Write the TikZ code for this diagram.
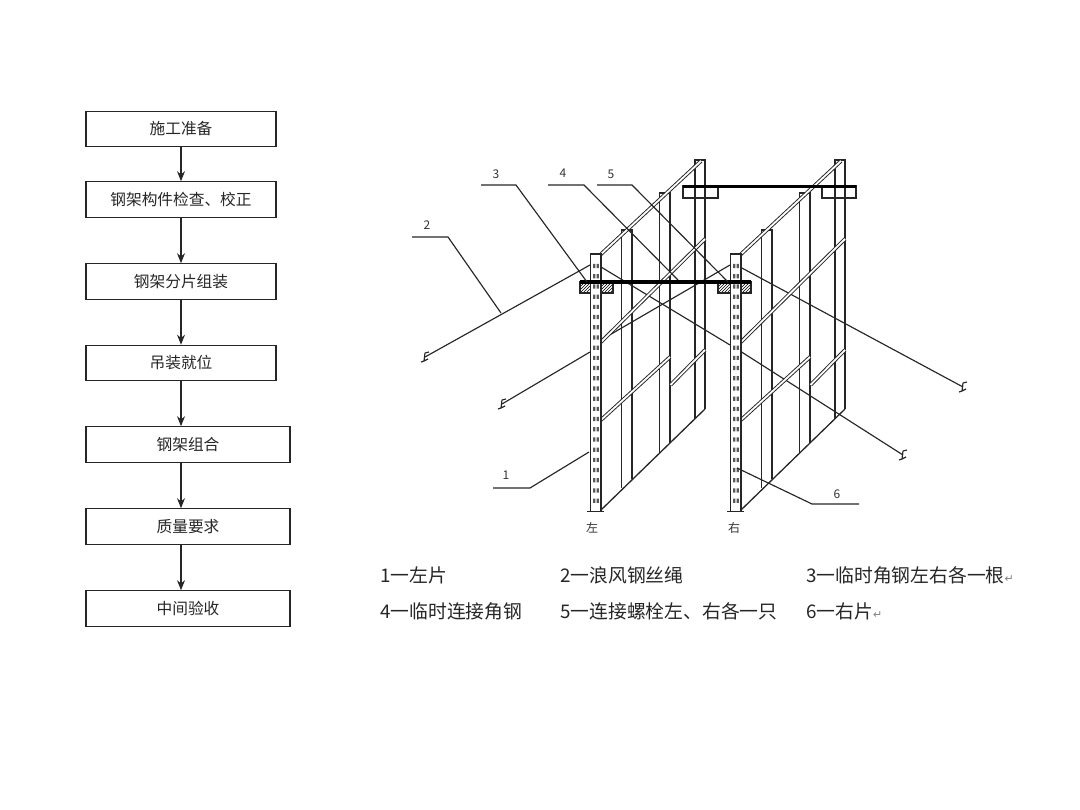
\documentclass[tikz,border=0pt]{standalone}
\usepackage{fontspec}
\setmainfont{Noto Sans CJK SC}
\newfontfamily\symfont{DejaVu Sans}
\usetikzlibrary{patterns,arrows.meta}
\tikzset{
  stepbox/.style={draw=black!85,line width=1.1pt,minimum height=35.5pt,inner sep=0pt,font=\fontsize{15.7}{18}\selectfont,text=black!85},
  flow/.style={-{Stealth[length=10pt,width=8pt]},line width=1.1pt,black!85},
  frameline/.style={black!85,line width=1.3pt},
  rail/.style={black!85,double=white,double distance=1.8pt,line width=.95pt},
  rope/.style={black!85,line width=1.15pt},
  tiebar/.style={black,line width=3.4pt},
  plate/.style={draw=black!85,line width=1.2pt},
  numlabel/.style={font=\fontsize{12}{13}\selectfont,text=black!80,inner sep=0pt},
  legend/.style={anchor=west,font=\fontsize{18.8}{20}\selectfont,text=black!85,inner sep=0pt},
}
\newcommand{\retmark}{{\symfont\fontsize{11}{12}\selectfont\color{black!50}↵}}
\begin{document}
\begin{tikzpicture}[x=1pt,y=-1pt]
  \useasboundingbox (0,0) rectangle (1080,810);
  % flow chart
  \node[stepbox,minimum width=190pt] (prep) at (181,129) {施工准备};
  \node[stepbox,minimum width=190pt] (check) at (181,199.5) {钢架构件检查、校正};
  \node[stepbox,minimum width=190pt] (assem) at (181,281.5) {钢架分片组装};
  \node[stepbox,minimum width=190pt] (lift) at (181,363) {吊装就位};
  \node[stepbox,minimum width=204pt] (combi) at (188,444.5) {钢架组合};
  \node[stepbox,minimum width=204pt] (quality) at (188,526.5) {质量要求};
  \node[stepbox,minimum width=204pt] (accept) at (188,608.5) {中间验收};
  \draw[flow] (prep.south) -- (check.north);
  \draw[flow] (check.south) -- (assem.north);
  \draw[flow] (assem.south) -- (lift.north);
  \draw[flow] (lift.south) -- (lift.south |- combi.north);
  \draw[flow] (lift.south |- combi.south) -- (lift.south |- quality.north);
  \draw[flow] (lift.south |- quality.south) -- (lift.south |- accept.north);
  % guy ropes
  \coordinate (endA) at (425,357);
  \coordinate (endB) at (502,404);
  \coordinate (endC) at (903,455);
  \coordinate (endD) at (963,387);
  \draw[rope] (endA) -- (590,265);
  \draw[rope] (endB) -- (590,352);
  \draw[rope] (601,340) -- (730,265);
  \draw[rope] (601,267) -- (730,345);
  \draw[rope] (740,351) -- (endC);
  \draw[rope] (740,267) -- (endD);
  \foreach \e in {endA,endB,endC,endD}
    \draw[rope,shift={(\e)}] (0,-4) -- (4,-5) (0,-4) -- (-1,4) -- (-4,5) (-1,4) -- (3,2);
  % the two panels
  \foreach \dx in {0,140} {
    \begin{scope}[xshift=\dx pt]
      \draw[frameline] (621.5,488) -- (621.5,230) -- (632,230) -- (632,479);
      \draw[frameline] (659.5,454) -- (659.5,193) -- (670,193) -- (670,443);
      \draw[frameline] (695,419) -- (695,160) -- (705,160) -- (705,409);
      \draw[frameline] (601,510) -- (705,409);
      \draw[rail] (599,256) -- (701,161);
      \draw[rail] (601,342) -- (705,239);
      \draw[rail] (601,420) -- (670,357);
      \draw[rail] (670.5,385) -- (705,350);
    \end{scope}
  }
  % back tie bar
  \draw[plate] (683,186) rectangle (718,198);
  \draw[plate] (822,186) rectangle (856,198);
  \draw[tiebar] (683,186.5) -- (856,186.5);
  % front tie bar with posts
  \draw[plate,pattern=north east lines] (580,282) rectangle (613,293);
  \draw[plate,pattern=north east lines] (718,282) rectangle (751,293);
  \foreach \dx in {0,140} {
    \begin{scope}[xshift=\dx pt]
      \draw[frameline,fill=white] (590.5,511) -- (590.5,254) -- (601,254) -- (601,511);
      \draw[frameline] (587,511.5) -- (604,511.5);
      \foreach \k in {0,...,23}
        \fill[black!65] (593.2,{264+10.2*\k}) rectangle ++(2.2,4.2)
          (596.6,{264+10.2*\k}) rectangle ++(2.2,4.2);
    \end{scope}
  }
  \draw[tiebar] (580,282) -- (751,282);
  % leaders and their numbers
  \draw[rope] (481,185) -- (516,185) -- (587,282);
  \draw[rope] (548,185) -- (584,185) -- (678,280);
  \draw[rope] (597,185) -- (632,185) -- (728,282);
  \draw[rope] (412,237) -- (448,237) -- (501,313);
  \draw[rope] (493,488) -- (530,488) -- (589,452);
  \draw[rope] (737,468) -- (812,504) -- (859,504);
  \node[numlabel] (n3) at (496,174) {3};
  \node[numlabel] (n4) at (563,173) {4};
  \node[numlabel] (n5) at (611,174) {5};
  \node[numlabel] (n2) at (427,225) {2};
  \node[numlabel] (n1) at (506,475) {1};
  \node[numlabel] (n6) at (837,494) {6};
  \node[numlabel] (nleft) at (592,528) {左};
  \node[numlabel] (nright) at (734,528) {右};
  % legend
  \node[legend] (key1) at (380,575) {1一左片};
  \node[legend] (key2) at (560,575) {2一浪风钢丝绳};
  \node[legend] (key3) at (806,575) {3一临时角钢左右各一根\retmark};
  \node[legend] (key4) at (380,611) {4一临时连接角钢};
  \node[legend] (key5) at (560,611) {5一连接螺栓左、右各一只};
  \node[legend] (key6) at (806,611) {6一右片\retmark};
\end{tikzpicture}
\end{document}
